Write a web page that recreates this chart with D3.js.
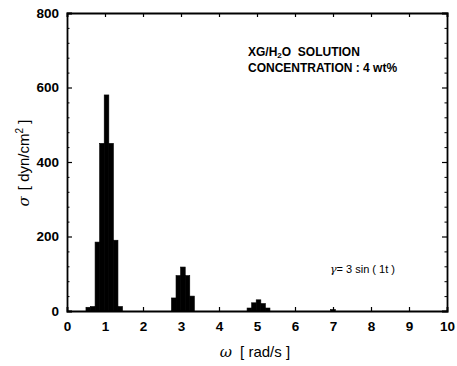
<!DOCTYPE html>
<html>
<head>
<meta charset="utf-8">
<script src="https://cdn.jsdelivr.net/npm/d3@7"></script>
<style>
  html, body { margin: 0; padding: 0; background: #fff; }
  svg text { font-family: "Liberation Sans", Arial, sans-serif; fill: #000; }
</style>
</head>
<body>
<div id="chart"></div>
<script>
// Spectrum of stress response, XG/H2O 4 wt%, gamma = 3 sin(1t)
const omega = [0.56, 0.68, 0.80, 0.92, 1.04, 1.16, 1.28, 1.40,
               2.81, 2.93, 3.05, 3.17, 3.29,
               4.80, 4.92, 5.04, 5.16, 5.28, 7.0];
const sigma = [10, 12, 185, 450, 580, 450, 190, 12,
               35, 95, 118, 95, 40,
               8, 22, 30, 20, 8, 4];
const xTicks = [0, 1, 2, 3, 4, 5, 6, 7, 8, 9, 10];
const yTicks = [0, 200, 400, 600, 800];

const W = 457, H = 366;
const M = { left: 67, right: 10, top: 13, bottom: 55 };
const BIN = 0.122; // bar width in rad/s

const svg = d3.select('#chart').append('svg').attr('width', W).attr('height', H);

const x = d3.scaleLinear().domain([0, 10]).range([M.left, W - M.right]);
const y = d3.scaleLinear().domain([0, 800]).range([H - M.bottom, M.top]);

// bars (touching, like the original histogram)
const bars = omega.map((w, i) => ({ w, s: sigma[i] }));
svg.append('g').selectAll('rect').data(bars).join('rect')
  .attr('x', d => x(d.w - BIN / 2))
  .attr('width', d => x(BIN) - x(0))
  .attr('y', d => y(d.s))
  .attr('height', d => y(0) - y(d.s))
  .attr('fill', '#000')
  .attr('stroke', '#000').attr('stroke-width', 0.6);

// axes: ticks point inward, mirrored on top/right
const gx = svg.append('g').attr('transform', `translate(0,${y(0)})`)
  .call(d3.axisBottom(x).tickValues(xTicks).tickSize(-4).tickPadding(10).tickFormat(d3.format('d')));
const gxt = svg.append('g').attr('transform', `translate(0,${y(800)})`)
  .call(d3.axisTop(x).tickValues(xTicks).tickSize(-4).tickFormat(''));
const gy = svg.append('g').attr('transform', `translate(${x(0)},0)`)
  .call(d3.axisLeft(y).tickValues(yTicks).tickSize(-5).tickPadding(8));
const gyr = svg.append('g').attr('transform', `translate(${x(10)},0)`)
  .call(d3.axisRight(y).tickValues(yTicks).tickSize(-5).tickFormat(''));
// minor ticks
const yMinor = d3.range(0, 801, 40).filter(v => v % 200 !== 0);
svg.append('g').attr('transform', `translate(${x(0)},0)`)
  .call(d3.axisLeft(y).tickValues(yMinor).tickSize(-2.5).tickFormat(''));
svg.append('g').attr('transform', `translate(${x(10)},0)`)
  .call(d3.axisRight(y).tickValues(yMinor).tickSize(-2.5).tickFormat(''));

[gx, gxt, gy, gyr].forEach(g => {
  g.select('.domain').attr('stroke-width', 1.8);
  g.selectAll('.tick line').attr('stroke-width', 1.2);
});
svg.selectAll('.domain').attr('stroke', '#000');
svg.selectAll('.tick text').attr('font-size', 13.5).attr('font-weight', 'bold').attr('fill', '#000');

// axis labels
const xl = svg.append('text').attr('x', 255).attr('y', 357).attr('text-anchor', 'middle')
  .attr('font-size', 15);
xl.append('tspan').attr('font-family', '"DejaVu Serif", serif').attr('font-style', 'italic').text('ω');
xl.append('tspan').attr('dx', 8).text('[ rad/s ]');

const yl = svg.append('text').attr('transform', 'translate(29,163) rotate(-90)')
  .attr('text-anchor', 'middle').attr('font-size', 15);
yl.append('tspan').attr('font-family', '"DejaVu Serif", serif').attr('font-style', 'italic').text('σ');
yl.append('tspan').attr('dx', 6).text('[ dyn/cm');
yl.append('tspan').attr('font-size', 10).attr('dy', -6).text('2');
yl.append('tspan').attr('font-size', 15).attr('dy', 6).text(' ]');

// annotations
const t1 = svg.append('text').attr('x', 248).attr('y', 56).attr('font-size', 12).attr('font-weight', 'bold');
t1.append('tspan').text('XG/H');
t1.append('tspan').attr('font-size', 8).attr('dy', 2).text('2');
t1.append('tspan').attr('dy', -2).text('O\u00a0\u00a0SOLUTION');
svg.append('text').attr('x', 248).attr('y', 72).attr('font-size', 12).attr('font-weight', 'bold')
  .text('CONCENTRATION : 4 wt%');

const t2 = svg.append('text').attr('x', 330).attr('y', 273).attr('font-size', 11);
t2.append('tspan').attr('font-family', '"DejaVu Serif", serif').attr('font-style', 'italic').text('γ');
t2.append('tspan').text('= 3 sin ( 1t )');
</script>
</body>
</html>
